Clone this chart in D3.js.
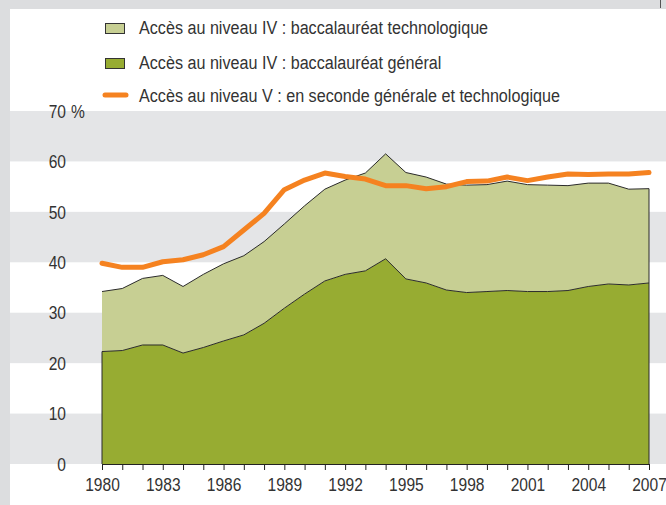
<!DOCTYPE html>
<html>
<head>
<meta charset="utf-8">
<script src="https://cdn.jsdelivr.net/npm/d3@7"></script>
<style>
  body { margin: 0; background: #fff; }
  svg text { font-family: "Liberation Sans", Arial, sans-serif; fill: #333; }
</style>
</head>
<body>
<div id="chart"></div>
<script>
var years = d3.range(1980, 2008);
var xTicks = [1980, 1983, 1986, 1989, 1992, 1995, 1998, 2001, 2004, 2007];
var yTicks = [0, 10, 20, 30, 40, 50, 60, 70];

// bac general (dark green)
var general = [22.3, 22.5, 23.6, 23.6, 22.0, 23.1, 24.4, 25.6, 27.9, 30.9, 33.7, 36.3, 37.6, 38.3,
  40.7, 36.7, 35.9, 34.5, 34.0, 34.2, 34.4, 34.2, 34.2, 34.4, 35.2, 35.7, 35.5, 35.9];
// bac technologique (light green), stacked on top of general
var techno = [11.9, 12.3, 13.2, 13.8, 13.2, 14.5, 15.3, 15.7, 16.2, 16.7, 17.5, 18.2, 18.7, 19.4,
  20.8, 21.1, 21.0, 21.0, 21.3, 21.2, 21.7, 21.2, 21.1, 20.8, 20.5, 20.0, 19.0, 18.7];
// seconde generale et technologique (orange line)
var seconde = [39.8, 39.0, 39.0, 40.1, 40.5, 41.5, 43.1, 46.4, 49.7, 54.4, 56.3, 57.7, 57.0, 56.5,
  55.2, 55.2, 54.6, 55.0, 56.0, 56.1, 56.9, 56.2, 56.9, 57.5, 57.4, 57.5, 57.5, 57.8];

var legendLabels = [
  "Accès au niveau IV : baccalauréat technologique",
  "Accès au niveau IV : baccalauréat général",
  "Accès au niveau V : en seconde générale et technologique"
];

var W = 666, H = 505;
var narrow = "scale(0.82,1)"; // police condensee simulee

var svg = d3.select("#chart").append("svg")
  .attr("width", W).attr("height", H);

// cadre gris
svg.append("rect").attr("width", W).attr("height", H).attr("fill", "#dcdddf");
svg.append("rect").attr("x", 10).attr("y", 9).attr("width", W - 10).attr("height", H - 9).attr("fill", "#fff");
svg.append("line").attr("x1", 660.5).attr("x2", 660.5).attr("y1", 0).attr("y2", 8)
  .attr("stroke", "#555").attr("stroke-width", 1);

var x = d3.scaleLinear().domain([1980, 2007]).range([102, 649]);
var y = d3.scaleLinear().domain([0, 70]).range([464, 111]);

// bandes horizontales
svg.append("g").selectAll("rect")
  .data([60, 40, 20, 0])
  .enter().append("rect")
  .attr("x", 10)
  .attr("width", W - 10)
  .attr("y", function(d) { return y(d + 10); })
  .attr("height", function(d) { return y(d) - y(d + 10); })
  .attr("fill", "#e4e5e7");

var rows = years.map(function(yr, i) {
  return { year: yr, general: general[i], techno: techno[i] };
});
var series = d3.stack().keys(["general", "techno"])(rows);
var colors = { general: "#97ac32", techno: "#c7cf93" };

var area = d3.area()
  .x(function(d) { return x(d.data.year); })
  .y0(function(d) { return y(d[0]); })
  .y1(function(d) { return y(d[1]); });

svg.append("g").selectAll("path")
  .data(series)
  .enter().append("path")
  .attr("d", area)
  .attr("fill", function(s) { return colors[s.key]; })
  .attr("stroke", "none");

// contours des aires
var topLine = d3.line()
  .x(function(d) { return x(d.data.year); })
  .y(function(d) { return y(d[1]); });
svg.append("g").selectAll("path")
  .data(series)
  .enter().append("path")
  .attr("d", topLine)
  .attr("fill", "none")
  .attr("stroke", "#2b2b2b")
  .attr("stroke-width", 1);

var last = series[1][series[1].length - 1];
var first = series[0][0];
svg.append("line")
  .attr("x1", x(2007)).attr("x2", x(2007))
  .attr("y1", y(0)).attr("y2", y(last[1]))
  .attr("stroke", "#2b2b2b").attr("stroke-width", 1);
svg.append("line")
  .attr("x1", x(1980)).attr("x2", x(1980))
  .attr("y1", y(0)).attr("y2", y(first[1]))
  .attr("stroke", "#2b2b2b").attr("stroke-width", 1);

// courbe orange
var line = d3.line()
  .x(function(d, i) { return x(years[i]); })
  .y(function(d) { return y(d); });
svg.append("path")
  .datum(seconde)
  .attr("d", line)
  .attr("fill", "none")
  .attr("stroke", "#f58220")
  .attr("stroke-width", 5)
  .attr("stroke-linejoin", "round")
  .attr("stroke-linecap", "round");

// axe x
var xAxis = d3.axisBottom(x)
  .tickValues(years)
  .tickSize(6)
  .tickFormat(function(d) { return xTicks.indexOf(d) >= 0 ? d : ""; });
var gx = svg.append("g")
  .attr("transform", "translate(0," + y(0) + ")")
  .call(xAxis);
gx.select(".domain").attr("stroke", "#222").attr("d", "M" + x(1980) + ",0.5H" + x(2007));
gx.selectAll(".tick line").attr("stroke", "#222");
gx.selectAll(".tick text")
  .attr("y", 14)
  .attr("dy", "0.71em")
  .attr("transform", narrow)
  .style("font-size", "19px")
  .attr("fill", "#333");

// axe y (etiquettes seulement)
var gy = svg.append("g");
gy.selectAll("g")
  .data(yTicks)
  .enter().append("g")
  .attr("transform", function(d) { return "translate(66," + y(d) + ") " + narrow; })
  .append("text")
  .attr("dy", "0.35em")
  .attr("text-anchor", "end")
  .style("font-size", "19px")
  .text(function(d) { return d; });
gy.append("g")
  .attr("transform", "translate(71," + y(70) + ") " + narrow)
  .append("text")
  .attr("dy", "0.35em")
  .style("font-size", "19px")
  .text("%");

// legende
var legend = svg.append("g");
var ly = [34, 68.5, 101.5];
legend.append("rect").attr("x", 105.5).attr("y", 23.5).attr("width", 19).attr("height", 10)
  .attr("fill", colors.techno).attr("stroke", "#333");
legend.append("rect").attr("x", 105.5).attr("y", 58.5).attr("width", 19).attr("height", 10)
  .attr("fill", colors.general).attr("stroke", "#333");
legend.append("line").attr("x1", 105).attr("x2", 126).attr("y1", 95).attr("y2", 95)
  .attr("stroke", "#f58220").attr("stroke-width", 5).attr("stroke-linecap", "round");
legend.selectAll("g.lab")
  .data(legendLabels)
  .enter().append("g")
  .attr("class", "lab")
  .attr("transform", function(d, i) { return "translate(139," + ly[i] + ") scale(0.85,1)"; })
  .append("text")
  .style("font-size", "19px")
  .text(function(d) { return d; });
</script>
</body>
</html>
